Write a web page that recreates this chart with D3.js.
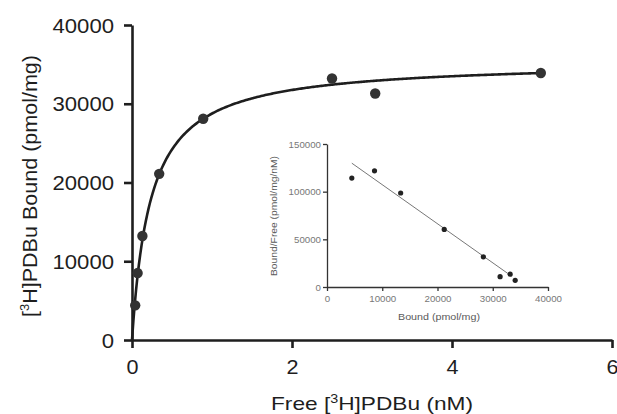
<!DOCTYPE html>
<html>
<head>
<meta charset="utf-8">
<script src="https://cdn.jsdelivr.net/npm/d3@7"></script>
<style>
  body { margin: 0; background: #fff; }
  svg { display: block; font-family: Arial, "Liberation Sans", sans-serif; }
</style>
</head>
<body>
<div id="chart"></div>
<script>
// main saturation data: free [3H]PDBu (nM) vs bound (pmol/mg)
const freeConc = [0.04, 0.07, 0.13, 0.34, 0.89, 2.5, 3.04, 5.11]
const bound = [4400, 8500, 13200, 21100, 28100, 33200, 31300, 33900]
// one-site fit
const fitBmax = 35440
const fitKd = 0.2325
const fitMaxX = 5.15

const xTicks = [0, 2, 4, 6]
const yTicks = [0, 10000, 20000, 30000, 40000]

// scatchard inset
const scBound = [4490, 8600, 13330, 21220, 28300, 31330, 33150, 34060]
const scRatio = [114300, 121900, 98600, 60400, 31600, 10800, 13500, 7000]
const scLineX = [4490, 32970]
const scLineY = [129900, 13200]
const scXTicks = [0, 10000, 20000, 30000, 40000]
const scYTicks = [0, 50000, 100000, 150000]

const W = 617
const H = 414

const svg = d3.select('#chart').append('svg')
  .attr('width', W)
  .attr('height', H)

// ---- main plot ----
const x = d3.scaleLinear().domain([0, 6]).range([132, 612])
const y = d3.scaleLinear().domain([0, 40000]).range([340, 25])
const ink = '#1e1e1e'

const gx = svg.append('g')
  .attr('transform', `translate(0,${y(0)})`)
  .call(d3.axisBottom(x).tickValues(xTicks).tickSize(8).tickSizeOuter(0).tickFormat(d3.format('d')))
const gy = svg.append('g')
  .attr('transform', `translate(${x(0)},0)`)
  .call(d3.axisLeft(y).tickValues(yTicks).tickSize(8).tickSizeOuter(0).tickFormat(d3.format('d')))

for (const g of [gx, gy]) {
  g.select('.domain').attr('stroke', ink).attr('stroke-width', 2.6)
  g.selectAll('.tick line').attr('stroke', ink).attr('stroke-width', 2.6)
  g.selectAll('.tick text')
    .attr('fill', ink)
    .attr('font-size', 20)
    .attr('font-family', 'Arial, "Liberation Sans", sans-serif')
}
gx.selectAll('.tick text').attr('dy', null).attr('y', 34)
  .attr('textLength', d => String(d).length * 12)
  .attr('lengthAdjust', 'spacingAndGlyphs')
gy.selectAll('.tick text').attr('x', -18).attr('dy', '0.36em')
  .attr('textLength', d => String(d).length * 12.3)
  .attr('lengthAdjust', 'spacingAndGlyphs')

// fitted hyperbola
const curveX = d3.range(0, 301).map(i => fitMaxX * i / 300)
svg.append('path')
  .datum(curveX)
  .attr('fill', 'none')
  .attr('stroke', ink)
  .attr('stroke-width', 2.6)
  .attr('d', d3.line().x(d => x(d)).y(d => y(fitBmax * d / (fitKd + d))))

svg.append('g').selectAll('circle')
  .data(freeConc)
  .enter()
  .append('circle')
  .attr('cx', d => x(d))
  .attr('cy', (d, i) => y(bound[i]))
  .attr('r', 5.2)
  .attr('fill', '#333')

// axis titles
const xt = svg.append('text')
  .attr('x', 372)
  .attr('y', 410)
  .attr('text-anchor', 'middle')
  .attr('font-size', 19)
  .attr('fill', ink)
  .attr('textLength', 202)
  .attr('lengthAdjust', 'spacingAndGlyphs')
xt.append('tspan').text('Free [')
xt.append('tspan').attr('font-size', 12).attr('dy', -7).text('3')
xt.append('tspan').attr('dy', 7).text('H]PDBu (nM)')

const yt = svg.append('text')
  .attr('transform', 'translate(37,186) rotate(-90)')
  .attr('text-anchor', 'middle')
  .attr('font-size', 20)
  .attr('fill', ink)
  .attr('textLength', 262)
  .attr('lengthAdjust', 'spacingAndGlyphs')
yt.append('tspan').text('[')
yt.append('tspan').attr('font-size', 12).attr('dy', -8).text('3')
yt.append('tspan').attr('dy', 8).text('H]PDBu Bound (pmol/mg)')

// ---- scatchard inset ----
const sx = d3.scaleLinear().domain([0, 40000]).range([327, 548])
const sy = d3.scaleLinear().domain([0, 150000]).range([287, 144])
const grey = '#5a5a5a'

const sgx = svg.append('g')
  .attr('transform', `translate(0,${sy(0)})`)
  .call(d3.axisBottom(sx).tickValues(scXTicks).tickSize(4).tickSizeOuter(0).tickFormat(d3.format('d')))
const sgy = svg.append('g')
  .attr('transform', `translate(${sx(0)},0)`)
  .call(d3.axisLeft(sy).tickValues(scYTicks).tickSize(4).tickSizeOuter(0).tickFormat(d3.format('d')))

for (const g of [sgx, sgy]) {
  g.select('.domain').attr('stroke', '#333').attr('stroke-width', 1.3)
  g.selectAll('.tick line').attr('stroke', '#333').attr('stroke-width', 1.3)
  g.selectAll('.tick text')
    .attr('fill', '#777')
    .attr('font-size', 9)
    .attr('font-family', 'Arial, "Liberation Sans", sans-serif')
    .attr('textLength', d => String(d).length * 5.4)
    .attr('lengthAdjust', 'spacingAndGlyphs')
}
sgx.selectAll('.tick text').attr('dy', null).attr('y', 15)
sgy.selectAll('.tick text').attr('x', -6).attr('dy', '0.36em')

svg.append('line')
  .attr('x1', sx(scLineX[0]))
  .attr('y1', sy(scLineY[0]))
  .attr('x2', sx(scLineX[1]))
  .attr('y2', sy(scLineY[1]))
  .attr('stroke', '#777')
  .attr('stroke-width', 1)

svg.append('g').selectAll('circle')
  .data(scBound)
  .enter()
  .append('circle')
  .attr('cx', d => sx(d))
  .attr('cy', (d, i) => sy(scRatio[i]))
  .attr('r', 2.6)
  .attr('fill', '#222')

svg.append('text')
  .attr('x', 439)
  .attr('y', 320)
  .attr('text-anchor', 'middle')
  .attr('font-size', 9.5)
  .attr('fill', grey)
  .attr('textLength', 82)
  .attr('lengthAdjust', 'spacingAndGlyphs')
  .text('Bound (pmol/mg)')

svg.append('text')
  .attr('transform', 'translate(277,216) rotate(-90)')
  .attr('text-anchor', 'middle')
  .attr('font-size', 9.5)
  .attr('fill', grey)
  .attr('textLength', 120)
  .attr('lengthAdjust', 'spacingAndGlyphs')
  .text('Bound/Free (pmol/mg/nM)')
</script>
</body>
</html>
